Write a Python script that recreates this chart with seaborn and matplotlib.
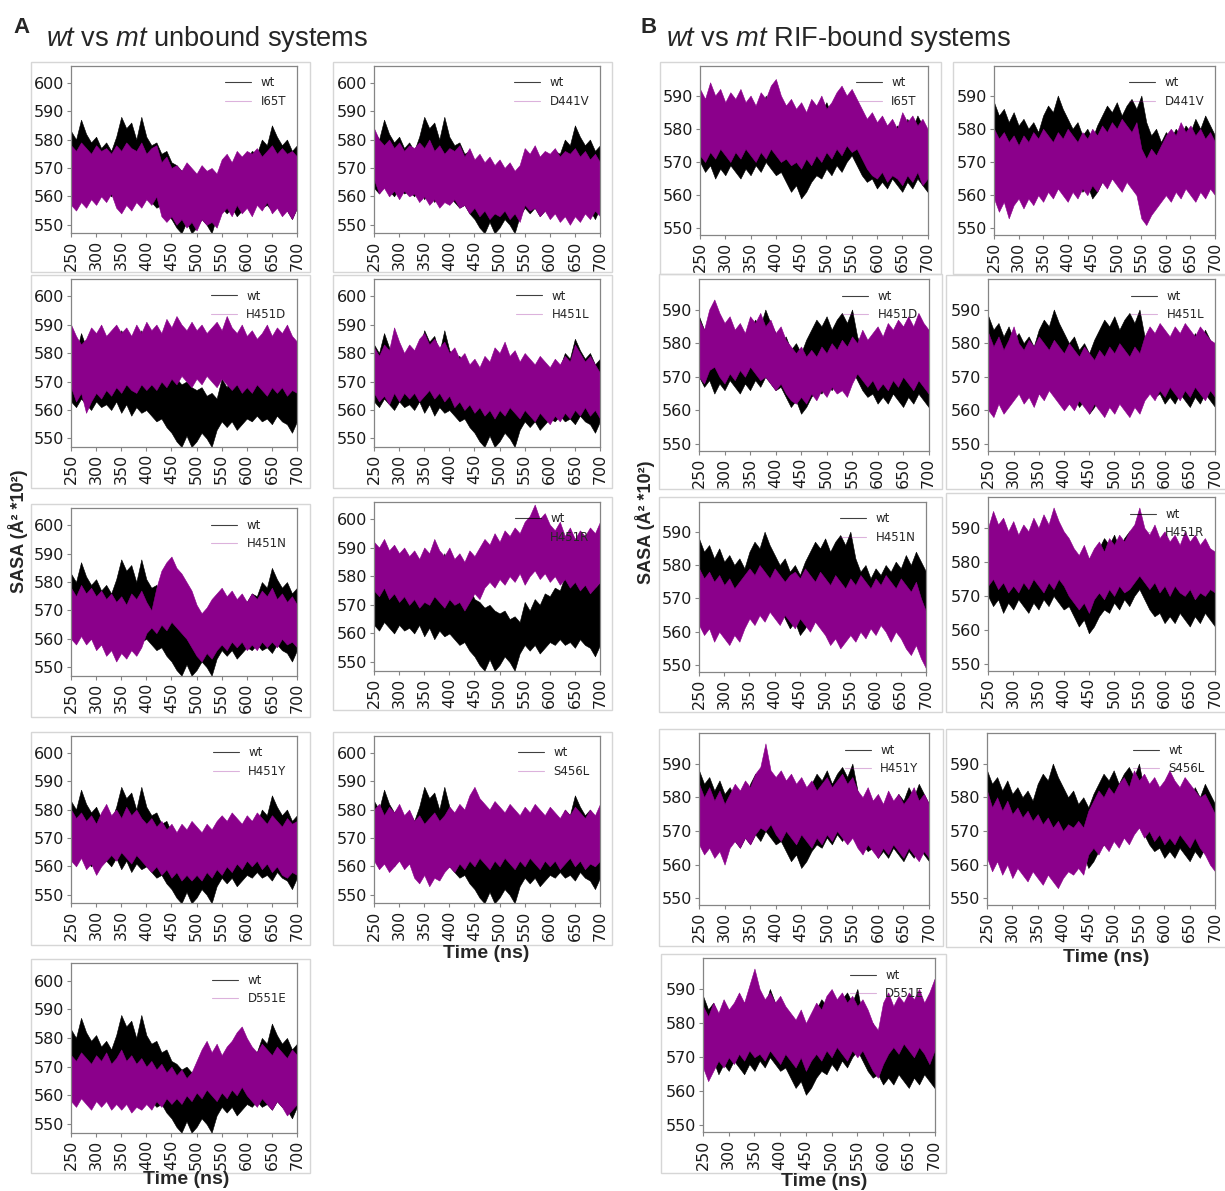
import matplotlib
matplotlib.use("Agg")
import matplotlib.pyplot as plt
from matplotlib.lines import Line2D
from matplotlib.patches import Rectangle
import pandas as pd
import seaborn as sns

sns.set_theme(style="white")
plt.rcParams.update({
    "font.family": ["DejaVu Sans"],
    "mathtext.fontset": "custom",
    "mathtext.rm": "Liberation Sans",
    "mathtext.it": "Liberation Sans:italic",
    "mathtext.bf": "Liberation Sans:bold",
    "axes.edgecolor": "#858585",
    "axes.linewidth": 0.9,
})

# ---------------------------------------------------------------------------
# SASA (x100 A^2) envelopes of each trajectory, sampled every 10 ns (250-700 ns)
# ---------------------------------------------------------------------------
time_ns = [250, 260, 270, 280, 290, 300, 310, 320, 330, 340,
           350, 360, 370, 380, 390, 400, 410, 420, 430, 440,
           450, 460, 470, 480, 490, 500, 510, 520, 530, 540,
           550, 560, 570, 580, 590, 600, 610, 620, 630, 640,
           650, 660, 670, 680, 690, 700]

mutations = ["I65T", "D441V", "H451D", "H451L", "H451N",
             "H451R", "H451Y", "S456L", "D551E"]

# ---- unbound systems ----
unbound_wt_hi = [583, 580, 587, 582, 579, 581, 577, 579, 576, 581,
                 588, 584, 586, 580, 588, 581, 578, 579, 575, 576,
                 572, 571, 569, 570, 568, 567, 568, 565, 566, 564,
                 571, 568, 572, 570, 574, 573, 576, 575, 580, 578,
                 585, 581, 578, 580, 576, 578]
unbound_wt_lo = [563, 561, 564, 562, 560, 563, 561, 562, 560, 563,
                 559, 562, 558, 561, 559, 560, 558, 556, 557, 554,
                 552, 549, 547, 551, 547, 549, 552, 550, 547, 553,
                 556, 554, 556, 553, 555, 557, 556, 558, 556, 557,
                 555, 558, 556, 555, 552, 556]

unbound_I65T_hi = [578, 576, 579, 577, 575, 578, 576, 577, 575, 578,
                   576, 579, 577, 576, 579, 575, 577, 578, 572, 574,
                   570, 571, 569, 572, 570, 568, 571, 569, 570, 568,
                   573, 575, 572, 576, 574, 576, 575, 577, 574, 576,
                   578, 575, 577, 575, 576, 574]
unbound_I65T_lo = [557, 555, 558, 556, 559, 557, 560, 558, 561, 556,
                   554, 557, 555, 558, 556, 559, 557, 560, 553, 551,
                   553, 550, 552, 549, 551, 548, 552, 550, 551, 549,
                   554, 556, 553, 557, 554, 556, 553, 557, 555, 558,
                   554, 556, 553, 555, 552, 556]

unbound_D441V_hi = [584, 580, 578, 580, 577, 579, 576, 578, 577, 579,
                    577, 580, 576, 578, 575, 577, 576, 578, 574, 577,
                    573, 575, 572, 574, 571, 573, 570, 572, 569, 571,
                    577, 575, 578, 574, 576, 575, 577, 574, 576, 575,
                    577, 574, 576, 573, 575, 572]
unbound_D441V_lo = [566, 561, 563, 560, 562, 559, 562, 560, 561, 558,
                    560, 557, 559, 556, 558, 557, 559, 556, 557, 554,
                    556, 553, 555, 552, 554, 553, 555, 552, 554, 551,
                    557, 555, 556, 553, 555, 552, 554, 551, 553, 550,
                    553, 551, 554, 552, 555, 553]

unbound_H451D_hi = [590, 586, 583, 585, 589, 587, 590, 586, 588, 590,
                    587, 589, 586, 590, 587, 591, 588, 590, 587, 592,
                    589, 593, 590, 588, 591, 588, 590, 587, 589, 591,
                    588, 593, 589, 587, 590, 586, 588, 585, 587, 590,
                    586, 589, 587, 590, 586, 584]
unbound_H451D_lo = [568, 563, 566, 559, 563, 566, 564, 567, 565, 568,
                    566, 569, 567, 566, 569, 567, 569, 567, 570, 568,
                    571, 569, 572, 570, 568, 571, 569, 572, 570, 568,
                    571, 569, 567, 569, 566, 568, 566, 569, 567, 565,
                    568, 566, 568, 565, 567, 566]

unbound_H451L_hi = [582, 579, 583, 581, 589, 584, 580, 583, 581, 585,
                    587, 583, 585, 582, 584, 580, 582, 578, 580, 576,
                    578, 575, 579, 577, 582, 580, 584, 579, 581, 577,
                    580, 578, 576, 579, 577, 575, 578, 576, 579, 577,
                    583, 580, 577, 579, 576, 573]
unbound_H451L_lo = [566, 563, 565, 562, 566, 563, 566, 564, 566, 563,
                    565, 567, 564, 566, 563, 565, 561, 563, 560, 562,
                    559, 561, 558, 560, 557, 560, 558, 561, 559, 557,
                    560, 558, 556, 559, 557, 555, 558, 556, 559, 557,
                    560, 558, 561, 558, 560, 557]

unbound_H451N_hi = [578, 575, 579, 576, 578, 575, 577, 574, 576, 573,
                    575, 572, 576, 574, 577, 573, 570, 578, 584, 587,
                    589, 585, 583, 580, 577, 572, 569, 571, 574, 576,
                    578, 575, 577, 574, 576, 573, 576, 574, 577, 575,
                    578, 574, 576, 573, 575, 572]
unbound_H451N_lo = [560, 558, 561, 558, 560, 556, 558, 554, 556, 552,
                    555, 553, 556, 554, 557, 562, 564, 562, 565, 563,
                    566, 564, 562, 560, 557, 554, 552, 555, 553, 556,
                    558, 556, 559, 557, 559, 556, 558, 556, 559, 557,
                    559, 557, 560, 558, 559, 557]

unbound_H451R_hi = [592, 590, 593, 589, 591, 588, 590, 587, 589, 586,
                    590, 588, 593, 589, 587, 590, 586, 588, 585, 589,
                    587, 590, 593, 591, 595, 592, 596, 594, 597, 595,
                    599, 601, 605, 600, 602, 598, 596, 599, 594, 597,
                    593, 596, 594, 597, 595, 599]
unbound_H451R_lo = [575, 573, 576, 572, 574, 571, 573, 570, 572, 569,
                    571, 570, 573, 571, 569, 572, 570, 571, 568, 571,
                    574, 572, 576, 578, 576, 579, 577, 580, 578, 581,
                    577, 580, 582, 579, 581, 578, 580, 577, 579, 576,
                    578, 575, 577, 574, 576, 578]

unbound_H451Y_hi = [580, 577, 579, 576, 578, 575, 579, 582, 578, 580,
                    577, 581, 578, 580, 577, 575, 577, 574, 576, 573,
                    575, 572, 575, 573, 576, 574, 572, 575, 573, 576,
                    578, 576, 579, 577, 575, 578, 576, 579, 577, 575,
                    578, 576, 574, 577, 575, 576]
unbound_H451Y_lo = [562, 560, 563, 559, 561, 557, 560, 562, 564, 562,
                    565, 563, 561, 564, 562, 560, 558, 560, 557, 559,
                    556, 558, 555, 557, 555, 557, 555, 558, 556, 559,
                    557, 560, 558, 561, 559, 562, 560, 562, 559, 561,
                    558, 560, 557, 556, 558, 557]

unbound_S456L_hi = [580, 582, 578, 581, 579, 582, 578, 580, 576, 578,
                    575, 577, 579, 576, 578, 581, 579, 582, 580, 585,
                    588, 584, 582, 580, 583, 581, 579, 582, 580, 578,
                    581, 579, 582, 580, 578, 581, 579, 577, 580, 578,
                    581, 579, 577, 580, 578, 582]
unbound_S456L_lo = [562, 559, 561, 558, 560, 562, 559, 561, 556, 554,
                    557, 553, 556, 555, 558, 560, 558, 561, 559, 562,
                    560, 563, 561, 559, 562, 560, 563, 561, 559, 562,
                    560, 563, 561, 559, 562, 560, 562, 559, 561, 563,
                    560, 562, 559, 561, 560, 562]

unbound_D551E_hi = [574, 572, 575, 573, 571, 574, 572, 575, 571, 573,
                    576, 572, 574, 571, 573, 570, 572, 569, 571, 568,
                    570, 567, 569, 566, 568, 572, 576, 579, 575, 578,
                    574, 577, 579, 582, 584, 580, 577, 575, 578, 576,
                    574, 577, 575, 573, 576, 574]
unbound_D551E_lo = [558, 556, 559, 557, 555, 558, 556, 558, 555, 557,
                    555, 557, 554, 556, 555, 557, 555, 558, 556, 559,
                    557, 559, 557, 560, 558, 561, 559, 562, 560, 558,
                    561, 559, 562, 560, 563, 560, 558, 556, 559, 557,
                    555, 558, 556, 553, 555, 557]

# ---- RIF-bound systems ----
bound_wt_hi = [588, 584, 586, 582, 585, 581, 583, 580, 582, 579,
               584, 587, 585, 590, 586, 583, 580, 582, 578, 580,
               577, 581, 584, 587, 585, 588, 584, 587, 589, 586,
               590, 582, 578, 580, 576, 579, 577, 580, 578, 581,
               579, 583, 580, 584, 581, 578]
bound_wt_lo = [570, 567, 569, 565, 568, 566, 569, 567, 565, 568,
               566, 569, 567, 570, 568, 566, 567, 564, 561, 563,
               559, 561, 564, 566, 565, 568, 566, 569, 567, 570,
               572, 569, 566, 564, 565, 562, 564, 562, 565, 563,
               561, 564, 562, 565, 563, 561]

bound_I65T_hi = [592, 589, 594, 590, 592, 588, 591, 589, 592, 588,
                 590, 587, 591, 589, 593, 595, 590, 587, 589, 586,
                 588, 585, 589, 587, 590, 586, 588, 591, 593, 590,
                 592, 589, 586, 583, 585, 582, 584, 581, 583, 580,
                 585, 582, 584, 581, 583, 580]
bound_I65T_lo = [572, 570, 573, 571, 574, 572, 570, 573, 571, 574,
                 572, 570, 573, 571, 574, 572, 570, 571, 569, 570,
                 568, 571, 569, 572, 570, 573, 571, 574, 572, 575,
                 573, 574, 571, 568, 566, 565, 567, 564, 566, 565,
                 563, 566, 564, 567, 563, 565]

bound_D441V_hi = [580, 577, 579, 576, 578, 575, 578, 576, 579, 577,
                  580, 578, 576, 579, 577, 580, 578, 576, 579, 577,
                  580, 578, 581, 579, 582, 580, 583, 581, 579, 582,
                  574, 571, 574, 572, 575, 578, 580, 578, 582, 579,
                  581, 578, 580, 577, 579, 576]
bound_D441V_lo = [559, 555, 558, 553, 557, 559, 556, 559, 557, 560,
                  558, 561, 559, 562, 560, 558, 561, 559, 562, 560,
                  563, 561, 564, 562, 565, 563, 561, 564, 562, 560,
                  553, 551, 554, 556, 558, 560, 558, 561, 559, 562,
                  560, 558, 561, 559, 562, 560]

bound_H451D_hi = [587, 584, 590, 593, 589, 586, 588, 584, 586, 583,
                  588, 586, 589, 585, 587, 583, 585, 581, 579, 577,
                  579, 576, 578, 576, 579, 577, 580, 578, 581, 579,
                  582, 580, 584, 581, 583, 585, 582, 586, 584, 587,
                  585, 588, 585, 589, 586, 584]
bound_H451D_lo = [570, 568, 572, 573, 570, 568, 571, 569, 572, 570,
                  573, 571, 569, 570, 568, 566, 568, 565, 563, 562,
                  564, 562, 565, 563, 566, 564, 567, 565, 566, 564,
                  568, 571, 569, 567, 569, 566, 568, 566, 569, 567,
                  570, 568, 566, 569, 567, 565]

bound_H451L_hi = [583, 579, 582, 578, 581, 585, 580, 578, 581, 579,
                  582, 580, 578, 581, 579, 577, 580, 578, 576, 579,
                  577, 575, 578, 576, 579, 577, 580, 578, 576, 579,
                  577, 582, 585, 583, 586, 584, 582, 585, 583, 586,
                  584, 582, 585, 583, 581, 580]
bound_H451L_lo = [560, 558, 562, 559, 561, 563, 565, 562, 564, 561,
                  565, 563, 566, 564, 562, 560, 562, 560, 563, 561,
                  559, 562, 560, 558, 561, 559, 562, 560, 558, 561,
                  559, 563, 565, 563, 566, 564, 567, 565, 563, 566,
                  564, 567, 565, 563, 566, 564]

bound_H451N_hi = [579, 576, 578, 575, 577, 574, 576, 573, 575, 577,
                  579, 577, 580, 578, 576, 579, 577, 575, 577, 578,
                  576, 579, 577, 575, 578, 576, 574, 577, 575, 573,
                  576, 574, 577, 575, 573, 576, 574, 577, 575, 573,
                  576, 574, 572, 575, 570, 566]
bound_H451N_lo = [562, 559, 561, 557, 560, 558, 556, 559, 557, 561,
                  564, 562, 565, 563, 566, 564, 562, 565, 563, 561,
                  564, 562, 560, 563, 561, 559, 556, 558, 555, 557,
                  559, 557, 560, 558, 561, 559, 562, 560, 557, 560,
                  558, 555, 553, 556, 552, 549]

bound_H451R_hi = [590, 595, 591, 593, 589, 592, 588, 591, 589, 593,
                  590, 594, 591, 596, 592, 589, 587, 584, 582, 585,
                  581, 584, 586, 583, 587, 585, 588, 586, 589, 591,
                  596, 590, 588, 591, 587, 589, 586, 588, 585, 589,
                  586, 588, 585, 587, 584, 583]
bound_H451R_lo = [573, 575, 572, 574, 571, 573, 571, 574, 572, 575,
                  573, 571, 574, 572, 575, 573, 570, 568, 566, 568,
                  565, 569, 571, 569, 572, 570, 573, 571, 572, 574,
                  576, 574, 572, 574, 571, 573, 570, 573, 571, 570,
                  572, 569, 571, 570, 572, 571]

bound_H451Y_hi = [584, 580, 583, 579, 582, 578, 581, 584, 582, 585,
                  583, 587, 589, 596, 588, 586, 588, 585, 587, 584,
                  586, 583, 585, 582, 584, 586, 583, 585, 587, 584,
                  586, 582, 580, 583, 579, 581, 578, 582, 579, 581,
                  578, 580, 583, 579, 581, 578]
bound_H451Y_lo = [566, 563, 565, 562, 564, 560, 565, 567, 565, 568,
                  566, 569, 571, 570, 572, 569, 567, 570, 568, 566,
                  569, 567, 565, 568, 566, 569, 567, 570, 568, 566,
                  568, 565, 563, 566, 564, 562, 565, 563, 566, 564,
                  562, 565, 563, 561, 564, 562]

bound_S456L_hi = [582, 577, 580, 576, 579, 575, 577, 574, 576, 573,
                  575, 572, 574, 571, 573, 570, 572, 571, 573, 571,
                  576, 579, 582, 580, 583, 581, 584, 586, 583, 588,
                  585, 587, 584, 586, 583, 585, 588, 585, 583, 586,
                  584, 582, 580, 581, 578, 575]
bound_S456L_lo = [562, 558, 561, 557, 560, 556, 559, 557, 555, 558,
                  556, 554, 557, 555, 553, 556, 558, 557, 559, 557,
                  563, 565, 563, 566, 564, 567, 565, 568, 566, 569,
                  571, 568, 570, 567, 569, 566, 568, 566, 569, 567,
                  565, 568, 565, 563, 560, 558]

bound_D551E_hi = [585, 582, 586, 583, 587, 584, 586, 589, 586, 591,
                  596, 590, 587, 589, 586, 588, 585, 583, 581, 584,
                  580, 583, 586, 584, 588, 590, 587, 589, 586, 588,
                  585, 587, 584, 580, 578, 586, 589, 585, 588, 586,
                  589, 587, 590, 586, 589, 593]
bound_D551E_lo = [567, 563, 566, 569, 567, 570, 568, 571, 569, 572,
                  570, 571, 569, 572, 570, 568, 571, 569, 567, 570,
                  566, 569, 571, 569, 572, 570, 573, 571, 569, 572,
                  570, 572, 569, 566, 564, 568, 571, 573, 571, 574,
                  572, 570, 573, 571, 568, 572]

g = globals()
unbound = {m: (g[f"unbound_{m}_lo"], g[f"unbound_{m}_hi"]) for m in mutations}
bound = {m: (g[f"bound_{m}_lo"], g[f"bound_{m}_hi"]) for m in mutations}
for lo, hi in list(unbound.values()) + list(bound.values()):
    assert len(lo) == len(time_ns) and len(hi) == len(time_ns)

# ---------------------------------------------------------------------------
W, H = 1225, 1191
fig = plt.figure(figsize=(W / 100, H / 100), dpi=100)

WT_COLOR = "black"
MT_COLOR = "#8b008b"
TICK_COLOR = "#858585"


def band_frame(lo, hi):
    return pd.DataFrame({"time": time_ns + time_ns, "sasa": lo + hi})


def draw_panel(mut, box, frame, wt, mt, ylim, yticks):
    L, T, R, B = box
    fL, fT, fR, fB = frame
    fig.add_artist(Rectangle((fL / W, 1 - fB / H), (fR - fL) / W, (fB - fT) / H,
                             transform=fig.transFigure, fill=False,
                             edgecolor="#d6d6d6", lw=1.0))
    ax = fig.add_axes([L / W, 1 - B / H, (R - L) / W, (B - T) / H])
    for k, (series, color) in enumerate(((wt, WT_COLOR), (mt, MT_COLOR))):
        sns.lineplot(data=band_frame(*series), x="time", y="sasa",
                     color=color, estimator="mean", errorbar=("pi", 100),
                     err_kws={"alpha": 1, "linewidth": 0.4, "edgecolor": color,
                              "zorder": 1.0 + 0.2 * k},
                     lw=0.5, zorder=1.1 + 0.2 * k, legend=False, ax=ax)
    ax.set_xlim(250, 700)
    ax.set_ylim(*ylim)
    ax.set_xticks(range(250, 701, 50))
    ax.set_yticks(yticks)
    ax.set_xlabel("")
    ax.set_ylabel("")
    ax.tick_params(axis="x", labelrotation=90, bottom=True, labelsize=11.5,
                   length=3, width=0.8, color=TICK_COLOR, pad=2,
                   labelcolor="#1a1a1a")
    ax.tick_params(axis="y", left=True, labelsize=11.5, length=3, width=0.8,
                   color=TICK_COLOR, pad=2, labelcolor="#1a1a1a")
    handles = [Line2D([], [], color=WT_COLOR, lw=0.8, alpha=0.75, label="wt"),
               Line2D([], [], color=MT_COLOR, lw=0.8, alpha=0.3, label=mut)]
    ax.legend(handles=handles, loc="upper right", frameon=False,
              fontsize=8.5, handlelength=2.2, labelspacing=0.45)
    return ax


unbound_layout = {
    "I65T": ((71, 65.7, 297, 233.3), (31, 61.7, 310, 272)),
    "D441V": ((374, 65.7, 600, 233.3), (333, 61.7, 612, 272)),
    "H451D": ((71, 279, 297, 447), (31, 275, 310, 488)),
    "H451L": ((374, 279, 600, 447), (333, 275, 612, 488)),
    "H451N": ((71, 508.3, 297, 675.7), (31, 504, 310, 716.7)),
    "H451R": ((374, 501.7, 600, 670.7), (333, 497.3, 612, 710)),
    "H451Y": ((71, 735.7, 297, 903.3), (31, 731.7, 310, 945)),
    "S456L": ((374, 735.7, 600, 903.3), (333, 731.7, 612, 945)),
    "D551E": ((71, 963.3, 297, 1132.7), (31, 959.3, 310, 1172.7)),
}
bound_layout = {
    "I65T": ((700, 65.7, 927.5, 235), (660, 61.7, 941, 274)),
    "D441V": ((994, 65.7, 1215, 235), (953, 61.7, 1226, 274)),
    "H451D": ((699, 279.3, 928.6, 450.7), (658.6, 274, 942, 489)),
    "H451L": ((988.4, 279.3, 1215, 450.7), (946, 275, 1226, 489)),
    "H451N": ((699, 501.7, 926, 671.7), (658.6, 497.3, 942, 712)),
    "H451R": ((988, 497.3, 1215, 670.7), (946, 493.3, 1226, 712)),
    "H451Y": ((699, 733.3, 929, 905), (658.6, 729.3, 943, 946)),
    "S456L": ((987, 733.3, 1215, 905), (946, 729.3, 1226, 946.7)),
    "D551E": ((703, 958.3, 934.5, 1132.3), (661, 954, 946, 1172.7)),
}

for m in mutations:
    box, frame = unbound_layout[m]
    draw_panel(m, box, frame, (unbound_wt_lo, unbound_wt_hi), unbound[m],
               (547, 606), range(550, 601, 10))
    box, frame = bound_layout[m]
    draw_panel(m, box, frame, (bound_wt_lo, bound_wt_hi), bound[m],
               (548, 599), range(550, 591, 10))


def fig_text(x, y, s, **kw):
    fig.text(x / W, 1 - y / H, s, family="Liberation Sans", **kw)


fig_text(13, 33, "A", fontsize=16, fontweight="bold", va="baseline")
fig_text(46, 46, r"$\mathit{wt}$ vs $\mathit{mt}$ unbound systems",
         fontsize=19.6, va="baseline")
fig_text(641, 33, "B", fontsize=16, fontweight="bold", va="baseline")
fig_text(666, 46, r"$\mathit{wt}$ vs $\mathit{mt}$ RIF-bound systems",
         fontsize=19.6, va="baseline")

fig_text(18, 531, "SASA (Å² *10²)", rotation=90, ha="center", va="center",
         fontsize=13, fontweight="bold")
fig_text(645, 522, "SASA (Å² *10²)", rotation=90, ha="center", va="center",
         fontsize=13, fontweight="bold")

for x, y in ((186, 1180), (486, 953), (824, 1181), (1106, 957)):
    fig_text(x, y, "Time (ns)", ha="center", va="center", fontsize=14,
             fontweight="bold")

fig.savefig("out.png", dpi=100, facecolor="white")
